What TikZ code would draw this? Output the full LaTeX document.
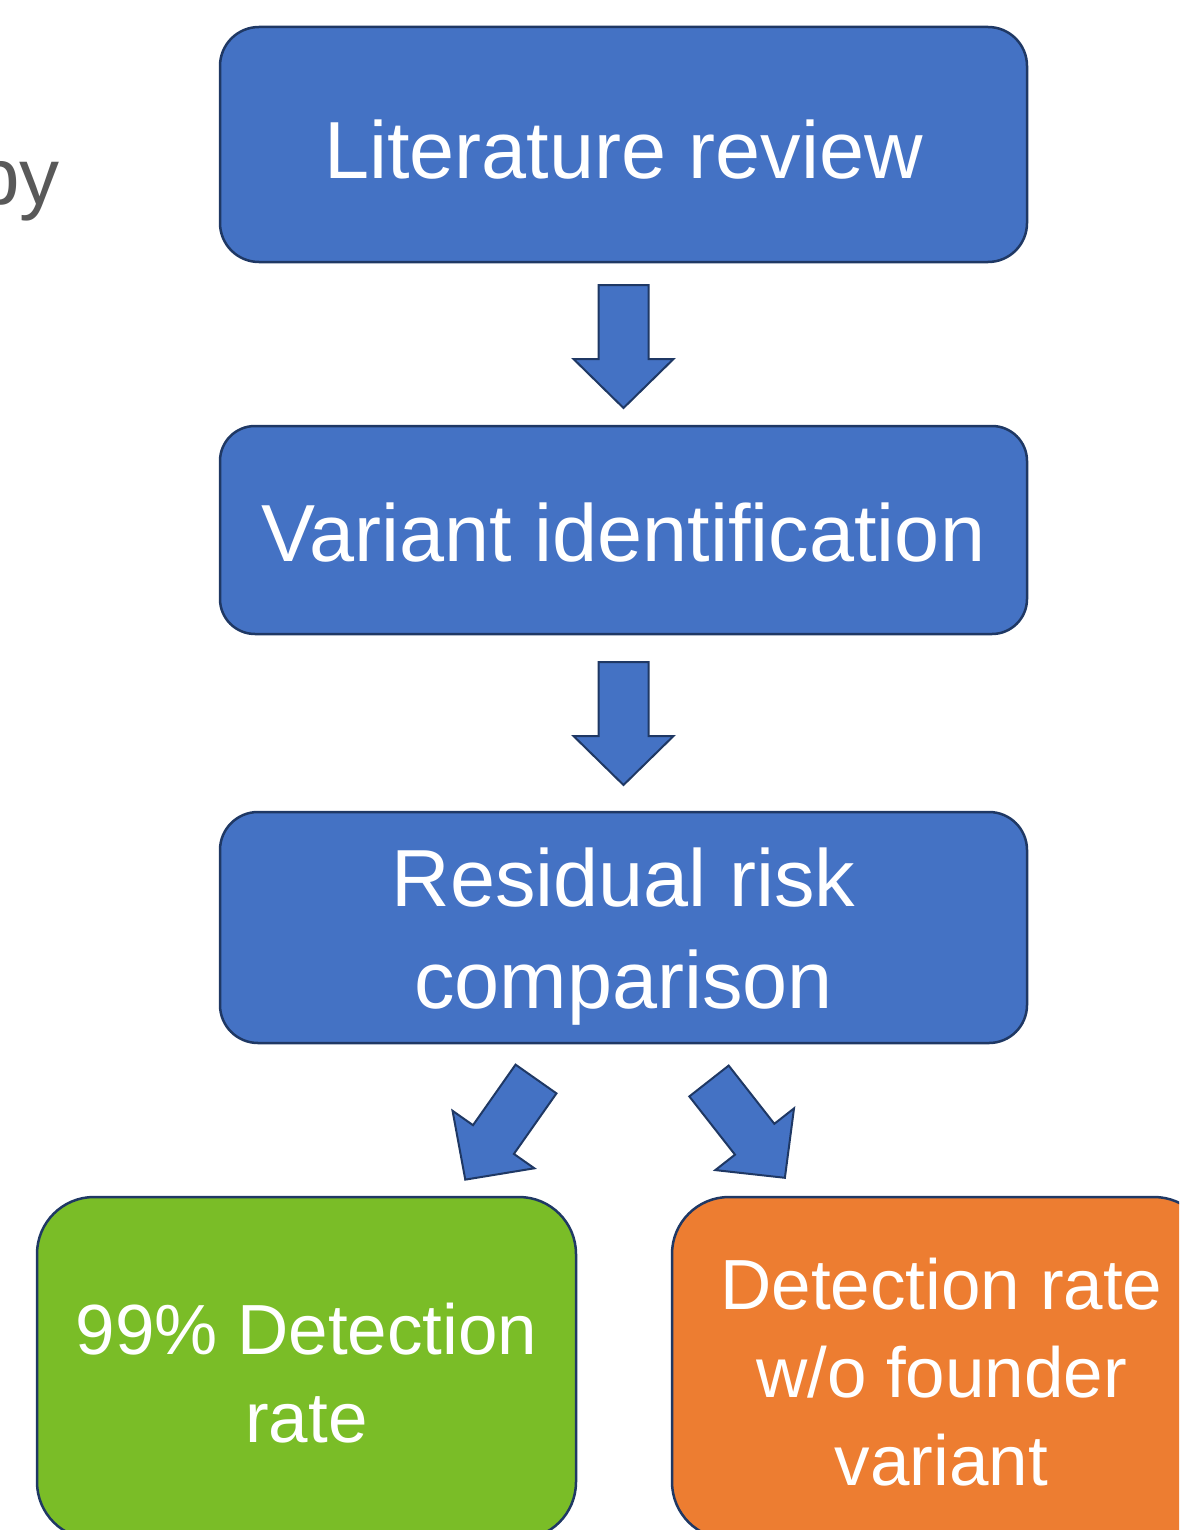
\documentclass[tikz,border=0pt]{standalone}
\usepackage{fontspec}
\setmainfont{Liberation Sans}
\usetikzlibrary{calc}
\definecolor{stepblue}{HTML}{4472C4}
\definecolor{stepgreen}{HTML}{7ABD27}
\definecolor{steporange}{HTML}{ED7D31}
\definecolor{edgenavy}{HTML}{1F3864}
\definecolor{titlegray}{HTML}{595959}
\tikzset{
  stepbox/.style={draw=edgenavy, line width=2.5pt, fill=stepblue,
    inner sep=0pt, outer sep=0pt, rectangle},
  steptext/.style={text=white, inner sep=0pt, align=center},
  bigtext/.style={font=\fontsize{81}{102}\selectfont},
  smalltext/.style={font=\fontsize{71}{88}\selectfont},
  blockarrow/.style={draw=edgenavy, line width=2pt, fill=stepblue, line join=miter},
}
% block arrow pointing along local +x, tail at origin
\newcommand{\blockarrowpath}[1]{%
  \path[blockarrow,#1] (0,-25) -- (74,-25) -- (74,-50) -- (123,0) -- (74,50)
    -- (74,25) -- (0,25) -- cycle;}
\begin{document}
\begin{tikzpicture}[x=1pt,y=-1pt]
\useasboundingbox (0,0) rectangle (1179,1530);
\clip (0,0) rectangle (1179,1530);

% heading fragment on the left
\node[text=titlegray, font=\fontsize{80}{96}\selectfont, anchor=base east,
  inner sep=0pt] (heading) at (60,205) {by};

% process step boxes
\node[stepbox, rounded corners=39pt, minimum width=807pt,
  minimum height=235pt] (lit) at (623.5,144.5) {};
\node[stepbox, rounded corners=35pt, minimum width=807pt,
  minimum height=208pt] (var) at (623.5,530) {};
\node[stepbox, rounded corners=38pt, minimum width=807pt,
  minimum height=231pt] (res) at (623.5,927.5) {};
\node[stepbox, fill=stepgreen, rounded corners=57pt,
  minimum width=539pt, minimum height=342pt] (det) at (306.5,1368) {};
\node[stepbox, fill=steporange, rounded corners=57pt,
  minimum width=539pt, minimum height=342pt] (wof) at (941.5,1368) {};

% step labels
\node[steptext, bigtext] (litlabel) at ($(lit.center)+(0,5)$) {Literature review};
\node[steptext, bigtext] (varlabel) at ($(var.center)+(0,3)$) {Variant identification};
\node[steptext, bigtext] (reslabel) at ($(res.center)+(0,9)$) {Residual risk\\comparison};
\node[steptext, smalltext] (detlabel) at ($(det.center)+(0,5)$) {99\% Detection\\rate};
\node[steptext, smalltext] (woflabel) at ($(wof.center)+(0,4)$)
  {Detection rate\\w/o founder\\variant};

% arrow tails
\coordinate (a1) at ($(lit.south)+(0,23)$);
\coordinate (a2) at ($(var.south)+(0,28)$);
\coordinate (a3) at (536,1079);
\coordinate (a4) at (709,1081);

\blockarrowpath{shift={(a1)}, rotate=-90}
\blockarrowpath{shift={(a2)}, rotate=-90}
\blockarrowpath{shift={(a3)}, rotate=-125.1}
\blockarrowpath{shift={(a4)}, rotate=-51.9}
\end{tikzpicture}
\end{document}
